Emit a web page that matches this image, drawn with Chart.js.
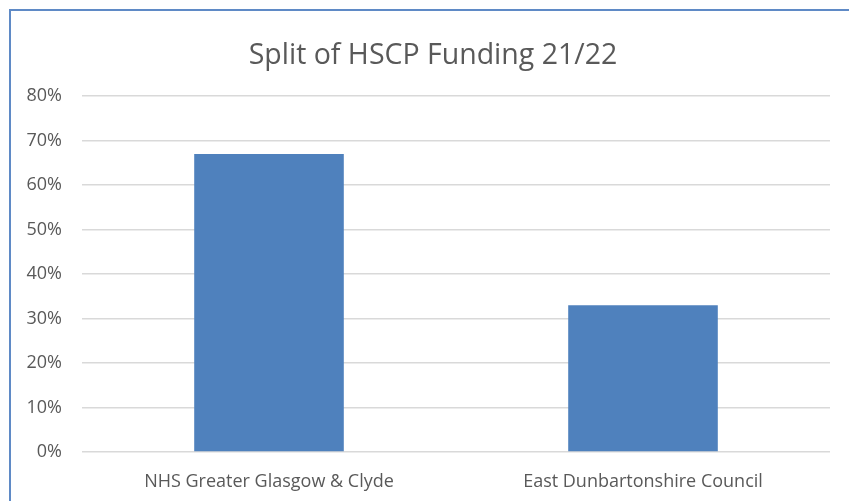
<!DOCTYPE html>
<html>
<head>
<meta charset="utf-8">
<script src="https://cdn.jsdelivr.net/npm/chart.js@4/dist/chart.umd.min.js"></script>
<style>
  html, body { margin: 0; padding: 0; background: #ffffff; }
  #wrap { position: absolute; left: 0; top: 0; width: 849px; height: 501px; }
</style>
</head>
<body>
<div id="wrap"><canvas id="c" width="849" height="501"></canvas></div>
<script>
const chartTitle = "Split of HSCP Funding 21/22";
const categories = ["NHS Greater Glasgow & Clyde", "East Dunbartonshire Council"];
const shareValues = [67, 33];
const yTickMin = 0;
const yTickMax = 80;
const yTickStep = 10;

const FONT = "'Open Sans', Lato, sans-serif";

const frame = {
  id: 'frame',
  afterDraw(chart) {
    const ctx = chart.ctx;
    ctx.save();
    ctx.strokeStyle = '#5f8ac6';
    ctx.lineWidth = 2;
    ctx.beginPath();
    ctx.moveTo(10, 501);
    ctx.lineTo(10, 10);
    ctx.lineTo(849, 10);
    ctx.stroke();
    ctx.restore();
  }
};

new Chart(document.getElementById('c'), {
  type: 'bar',
  data: {
    labels: categories,
    datasets: [{
      data: shareValues,
      backgroundColor: '#4f81bd',
      borderWidth: 0,
      categoryPercentage: 0.4,
      barPercentage: 1.0
    }]
  },
  options: {
    responsive: false,
    animation: false,
    layout: { padding: { left: 17, right: 0, top: 26, bottom: 0 } },
    plugins: {
      legend: { display: false },
      tooltip: { enabled: false },
      title: {
        display: true,
        text: chartTitle,
        color: '#595959',
        font: { family: FONT, size: 28.5, weight: 'normal' },
        padding: { top: 13, bottom: 23 }
      }
    },
    scales: {
      x: {
        grid: { display: false },
        border: { display: false },
        ticks: {
          color: '#595959',
          font: { family: FONT, size: 18 },
          padding: 11,
          maxRotation: 0
        },
        afterFit(s) { s.height = 49; }
      },
      y: {
        min: yTickMin,
        max: yTickMax,
        grid: { color: '#d9d9d9', lineWidth: 1.5, drawTicks: false },
        border: { display: false },
        ticks: {
          stepSize: yTickStep,
          color: '#595959',
          font: { family: FONT, size: 18 },
          padding: 20,
          callback: v => v + '%'
        },
        afterFit(s) { s.width = 65; }
      },
      yRight: {
        position: 'right',
        min: yTickMin,
        max: yTickMax,
        grid: { display: false },
        border: { display: false },
        ticks: { display: false },
        afterFit(s) { s.width = 19; }
      }
    }
  },
  plugins: [frame]
});
</script>
</body>
</html>
